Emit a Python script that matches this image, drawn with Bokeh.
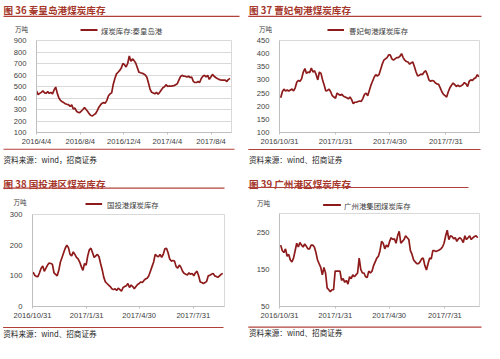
import pandas as pd
from bokeh.plotting import figure
from bokeh.models import Label, BoxAnnotation, FixedTicker, Range1d
from bokeh.layouts import column, row
from bokeh.embed import file_html
from bokeh.resources import INLINE

# ---------------- data ----------------
# Panel 36: 秦皇岛港
qhd_origin = "2016-04-04"
qhd_axis_end = "2017-09-30"
qhd_first, qhd_last = "2016-04-04", "2017-09-26"
qhd_values = [462, 430, 440, 449, 462, 445, 441, 455, 440, 449, 436, 470, 495, 440, 400, 380,
              368, 360, 350, 345, 342, 328, 340, 305, 312, 285, 275, 272, 285, 300, 318, 300,
              283, 262, 248, 245, 255, 265, 290, 320, 340, 355, 360, 355, 380, 420, 436, 445,
              520, 570, 610, 624, 640, 660, 700, 690, 670, 700, 765, 720, 740, 725, 705, 665,
              625, 620, 616, 610, 600, 580, 530, 475, 450, 443, 436, 449, 433, 449, 470, 489,
              497, 516, 500, 505, 502, 505, 508, 516, 524, 556, 585, 597, 590, 589, 583, 589,
              578, 583, 545, 535, 535, 543, 535, 570, 589, 597, 583, 597, 562, 583, 605, 589,
              578, 570, 562, 558, 556, 555, 556, 543, 562, 570]
qhd_tick_dates = ["2016-04-04", "2016-08-04", "2016-12-04", "2017-04-04", "2017-08-04"]
qhd_tick_labels = ["2016/4/4", "2016/8/4", "2016/12/4", "2017/4/4", "2017/8/4"]
qhd_yticks = [100, 200, 300, 400, 500, 600, 700, 800, 900]

# Panel 37: 曹妃甸港
cfd_origin = "2016-10-31"
cfd_axis_end = "2017-09-24"
cfd_first, cfd_last = "2016-11-02", "2017-09-23"
cfd_values = [232, 255, 265, 258, 262, 258, 262, 265, 258, 270, 292, 298, 295, 305, 330, 343,
              325, 330, 328, 345, 330, 335, 320, 300, 330, 325, 300, 280, 258, 260, 265, 255,
              240, 235, 230, 250, 245, 242, 245, 238, 235, 232, 228, 235, 225, 210, 215, 215,
              218, 220, 218, 230, 245, 250, 240, 260, 280, 295, 310, 320, 315, 320, 340, 360,
              375, 380, 385, 395, 395, 380, 375, 380, 385, 385, 390, 400, 385, 375, 370, 368,
              360, 365, 368, 350, 330, 315, 318, 322, 320, 330, 335, 320, 300, 295, 298, 296,
              288, 285, 283, 270, 255, 245, 240, 235, 255, 270, 280, 288, 282, 275, 280, 275,
              278, 282, 290, 285, 275, 295, 300, 298, 305, 308, 320, 312]
cfd_tick_dates = ["2016-10-31", "2017-01-31", "2017-04-30", "2017-07-31"]
cfd_tick_labels = ["2016/10/31", "2017/1/31", "2017/4/30", "2017/7/31"]
cfd_yticks = [100, 150, 200, 250, 300, 350, 400, 450]

# Panel 38: 国投港区
gt_origin = "2016-10-31"
gt_axis_end = "2017-09-22"
gt_first, gt_last = "2016-11-01", "2017-09-19"
gt_values = [112, 102, 98, 97, 110, 125, 132, 115, 125, 135, 142, 140, 138, 110, 105, 100,
             118, 145, 160, 175, 190, 200, 192, 170, 165, 178, 170, 160, 155, 145, 130, 118,
             140, 135, 165, 185, 190, 175, 160, 165, 170, 162, 140, 120, 95, 80, 75, 70,
             65, 58, 55, 58, 52, 60, 55, 50, 62, 65, 68, 75, 62, 70, 65, 58,
             65, 72, 75, 80, 78, 85, 90, 92, 100, 115, 130, 145, 170, 165, 162, 170,
             160, 170, 188, 190, 175, 155, 148, 150, 148, 130, 125, 135, 128, 115, 108, 105,
             103, 110, 105, 108, 100, 110, 115, 100, 80, 78, 75, 78, 82, 100, 102, 105,
             108, 100, 98, 95, 100, 105, 108]
gt_tick_dates = ["2016-10-31", "2017-01-31", "2017-04-30", "2017-07-31"]
gt_tick_labels = ["2016/10/31", "2017/1/31", "2017/4/30", "2017/7/31"]
gt_yticks = [0, 100, 200, 300]

# Panel 39: 广州港区
gz_origin = "2016-10-31"
gz_axis_end = "2017-09-26"
gz_first, gz_last = "2016-11-02", "2017-09-23"
gz_values = [215, 200, 195, 205, 185, 190, 175, 170, 180, 200, 220, 210, 222, 215, 210, 218,
             212, 205, 205, 215, 215, 210, 195, 175, 165, 155, 135, 155, 140, 100, 95, 90,
             95, 95, 145, 145, 145, 145, 120, 125, 115, 120, 110, 130, 125, 135, 130, 135,
             140, 180, 150, 140, 140, 130, 128, 145, 140, 145, 160, 170, 180, 185, 200, 225,
             220, 205, 215, 210, 225, 235, 230, 232, 220, 240, 252, 220, 225, 230, 240, 235,
             230, 200, 190, 175, 170, 165, 165, 170, 178, 180, 160, 148, 165, 180, 178, 200,
             200, 198, 200, 202, 205, 210, 220, 240, 255, 230, 240, 238, 232, 235, 225, 232,
             235, 230, 222, 240, 230, 235, 240, 230, 235, 238, 240, 235]
gz_tick_dates = ["2016-10-31", "2017-01-31", "2017-04-30", "2017-07-31"]
gz_tick_labels = ["2016/10/31", "2017/1/31", "2017/4/30", "2017/7/31"]
gz_yticks = [50, 150, 250]

# ---------------- style ----------------
LINE = "#8E1B1B"
TITLE_C = "#A5372B"
RULE_C = "#B2403A"
AXIS_C = "#BFBFBF"
CJK = "Noto Sans CJK SC"
LAT = "Liberation Sans"


def days(d, origin):
    return (pd.Timestamp(d) - pd.Timestamp(origin)) / pd.Timedelta(days=1)


def strip(W, h):
    """A plain canvas with pixel data coordinates (y downward) for texts and rules."""
    s = figure(width=W, height=h, output_backend="svg", toolbar_location=None,
               x_range=Range1d(0, W), y_range=Range1d(h, 0),
               x_axis_location=None, y_axis_location=None,
               min_border=0, min_border_left=0, min_border_right=0,
               min_border_top=0, min_border_bottom=0,
               outline_line_color=None, frame_align=False,
               background_fill_color="white", border_fill_color="white")
    s.grid.visible = False
    return s


def text(s, x, y, t, size, color, font=CJK, bold=False):
    s.add_layout(Label(x=x, y=y, text=t, text_font=font, text_font_size=size,
                       text_color=color, text_font_style="bold" if bold else "normal",
                       text_baseline="middle", text_align="left"))


def rule(s, x0, x1, y, color, thick):
    s.add_layout(BoxAnnotation(left=x0, right=x1, top=y - thick / 2, bottom=y + thick / 2,
                               fill_color=color, fill_alpha=1, line_alpha=0))


def panel(cfg):
    W, H = cfg["W"], cfg["H"]
    hh, ch = cfg["head_h"], cfg["chart_h"]
    fh = H - hh - ch
    FL, FR, FT, FB = cfg["frame"]  # in panel canvas coordinates
    origin = cfg["origin"]

    # header
    head = strip(W, hh)
    tx, ty = cfg["title_xy"]
    text(head, tx, ty, cfg["title"], "9.6px", TITLE_C, bold=True)
    x0, x1, y = cfg["title_rule"]
    rule(head, x0, x1, y, RULE_C, 1.2)
    ux, uy = cfg["unit_xy"]
    text(head, ux, uy, "万吨", "6.5px", "#404040")
    lx0, lx1, ly, ltx = cfg["legend"]
    rule(head, lx0, lx1, ly, LINE, 1.8)
    text(head, ltx, ly, cfg["legend_text"], "7.4px", "#404040")

    # chart
    p = figure(width=W, height=ch, output_backend="svg", toolbar_location=None,
               x_range=Range1d(0, days(cfg["axis_end"], origin)),
               y_range=Range1d(cfg["yticks"][0], cfg["ytop"]),
               min_border_left=FL, min_border_right=W - FR,
               min_border_top=FT - hh, min_border_bottom=hh + ch - FB,
               frame_align=False,
               background_fill_color="white", border_fill_color="white",
               outline_line_color="#D9D9D9")
    dates = pd.date_range(cfg["first"], cfg["last"], periods=len(cfg["values"]))
    xs = [(d - pd.Timestamp(origin)) / pd.Timedelta(days=1) for d in dates]
    p.line(xs, cfg["values"], line_color=LINE, line_width=1.7)

    ticks = [days(d, origin) for d in cfg["tick_dates"]]
    p.xaxis.ticker = FixedTicker(ticks=ticks)
    p.xaxis.major_label_overrides = {t: l for t, l in zip(ticks, cfg["tick_labels"])}
    p.yaxis.ticker = FixedTicker(ticks=cfg["yticks"])
    for ax in (p.xaxis[0], p.yaxis[0]):
        ax.axis_line_color = AXIS_C
        ax.major_label_text_font = LAT
        ax.major_label_text_font_size = "7.6px"
        ax.major_label_text_color = "#404040"
        ax.minor_tick_line_color = None
    p.xaxis.major_tick_line_color = AXIS_C
    p.xaxis.major_tick_out = 2
    p.xaxis.major_tick_in = 0
    p.xaxis.major_label_standoff = 2
    p.yaxis.major_tick_line_color = None
    p.yaxis.major_label_standoff = 4
    p.xgrid.grid_line_color = None
    p.ygrid.grid_line_color = "#D9D9D9" if cfg["grid"] else None

    # footer
    off = hh + ch
    foot = strip(W, fh)
    x0, x1, y = cfg["foot_rule"]
    rule(foot, x0, x1, y - off, RULE_C, 1.2)
    fx, fy = cfg["foot_xy"]
    text(foot, fx, fy - off, cfg["foot_text"], "7.6px", "#262626")
    return column(head, p, foot)


p1 = panel(dict(W=242, H=171, head_h=35, chart_h=113, frame=(36, 231, 40, 134),
                origin=qhd_origin, axis_end=qhd_axis_end,
                first=qhd_first, last=qhd_last, values=qhd_values, tick_dates=qhd_tick_dates,
                tick_labels=qhd_tick_labels, yticks=qhd_yticks, ytop=900, grid=True,
                title="图 36 秦皇岛港煤炭库存", title_xy=(3, 9.5), title_rule=(3, 239, 15.8),
                unit_xy=(14.5, 28.4), legend=(80, 97, 29.5, 100.5),
                legend_text="煤炭库存:秦皇岛港",
                foot_rule=(3, 234, 148.6), foot_xy=(3, 158.5),
                foot_text="资料来源：wind，招商证券"))

p2 = panel(dict(W=242, H=171, head_h=35, chart_h=113, frame=(37, 237, 40, 134),
                origin=cfd_origin, axis_end=cfd_axis_end,
                first=cfd_first, last=cfd_last, values=cfd_values, tick_dates=cfd_tick_dates,
                tick_labels=cfd_tick_labels, yticks=cfd_yticks, ytop=450, grid=False,
                title="图 37 曹妃甸港煤炭库存", title_xy=(6.5, 9.5), title_rule=(5.8, 239, 15.8),
                unit_xy=(16.5, 28.4), legend=(85, 101.5, 29.5, 106.5),
                legend_text="曹妃甸港煤炭库存",
                foot_rule=(5.8, 238, 149), foot_xy=(6.5, 158.5),
                foot_text="资料来源：wind、招商证券"))

p3 = panel(dict(W=242, H=172, head_h=38, chart_h=113, frame=(32, 224, 43, 136),
                origin=gt_origin, axis_end=gt_axis_end,
                first=gt_first, last=gt_last, values=gt_values, tick_dates=gt_tick_dates,
                tick_labels=gt_tick_labels, yticks=gt_yticks, ytop=300, grid=False,
                title="图 38 国投港区煤炭库存", title_xy=(3, 12.2), title_rule=(2.6, 224, 16.6),
                unit_xy=(12.9, 30.5), legend=(85, 101.6, 32.5, 106.5),
                legend_text="国投港煤炭库存",
                foot_rule=(2.6, 223, 156), foot_xy=(2.7, 162.3),
                foot_text="资料来源：wind、招商证券"))

p4 = panel(dict(W=242, H=172, head_h=39, chart_h=112, frame=(37, 237, 42, 137),
                origin=gz_origin, axis_end=gz_axis_end,
                first=gz_first, last=gz_last, values=gz_values, tick_dates=gz_tick_dates,
                tick_labels=gz_tick_labels, yticks=gz_yticks, ytop=300, grid=False,
                title="图 39 广州港区煤炭库存", title_xy=(6.5, 12.2), title_rule=(5.8, 226, 16),
                unit_xy=(14.5, 31.5), legend=(80.6, 98.4, 33.5, 101.6),
                legend_text="广州港集团煤炭库存",
                foot_rule=(5.8, 239, 155.6), foot_xy=(6.5, 161),
                foot_text="资料来源：wind、招商证券"))

layout = column(row(p1, p2), row(p3, p4))
open("out.html", "w").write(file_html(layout, INLINE))
